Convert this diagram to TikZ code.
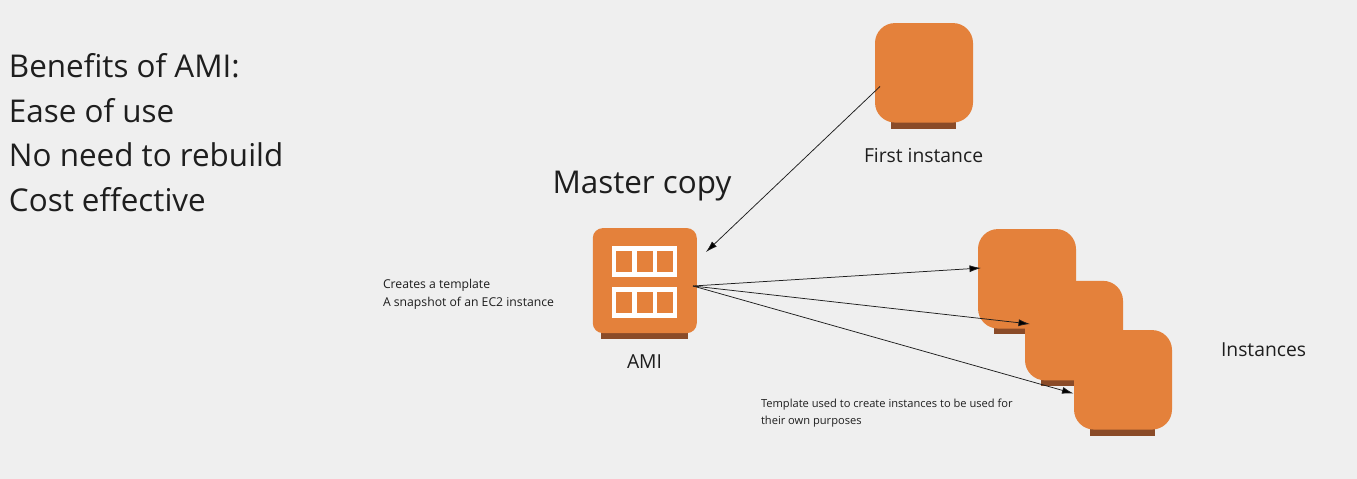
\documentclass[tikz,border=0pt]{standalone}
\usepackage{fontspec}
\setmainfont{Open Sans}
\usetikzlibrary{arrows.meta}
\definecolor{bgc}{HTML}{EFEFEF}
\definecolor{orangec}{HTML}{E4813B}
\definecolor{brownc}{HTML}{8A4B28}
\definecolor{inkc}{HTML}{1E1E1E}
\tikzset{
  x=1pt,y=-1pt,
  body/.style={fill=orangec,draw=none,rounded corners=20pt,minimum width=98pt,minimum height=99.5pt,inner sep=0pt,outer sep=0pt},
  amibody/.style={fill=orangec,draw=none,rounded corners=10pt,minimum width=104pt,minimum height=105pt,inner sep=0pt,outer sep=0pt},
  basebar/.style={fill=brownc,draw=none,inner sep=0pt,outer sep=0pt,minimum width=65pt,minimum height=6.5pt},
  frame/.style={fill=white,draw=none,inner sep=0pt,outer sep=0pt,minimum width=65.6pt,minimum height=31pt},
  cell/.style={fill=orangec,draw=none,inner sep=0pt,outer sep=0pt,minimum width=16pt,minimum height=20.6pt},
  txt/.style={anchor=base west,inner sep=0pt,outer sep=0pt,text=inkc},
  big/.style={txt,font=\fontsize{31.4}{31.4}\selectfont},
  mid/.style={txt,font=\fontsize{19.3}{19.3}\selectfont},
  small/.style={txt,font=\fontsize{12.2}{12.2}\selectfont},
  smaller/.style={txt,font=\fontsize{11.12}{11.12}\selectfont},
  link/.style={draw=inkc,line width=0.75pt,-{Latex[length=11.5pt,width=7pt,fill=black]}},
}
\begin{document}
\begin{tikzpicture}
\useasboundingbox (0,0) rectangle (1357,479);
\fill[bgc] (0,0) rectangle (1357,479);
% first instance
\node[basebar] (firstbase) at (923.5,125.5) {};
\node[body] (first) at (924,72.8) {};
% group of instances
\node[basebar] (b2) at (1026.5,331) {};
\node[body] (i2) at (1027,278.8) {};
\node[basebar] (b3) at (1073.5,383) {};
\node[body] (i3) at (1074,330.6) {};
\node[basebar] (b4) at (1122.5,432.5) {};
\node[body] (i4) at (1123,379.8) {};
% AMI
\node[basebar,minimum width=87.5pt] (amibase) at (644.4,336) {};
\node[amibody] (ami) at (644.8,280.6) {};
\node[frame] (f1) at (644.5,261.2) {};
\node[frame] (f2) at (644.5,302.8) {};
\foreach \n/\x in {a/624.3,b/644.7,c/664.9}{
  \node[cell] (u\n) at (\x,261.3) {};
  \node[cell] (l\n) at (\x,302.7) {};
}
% connector ends
\coordinate (s0) at (880,86.5);
\coordinate (e0) at (706,252);
\coordinate (s1) at (693,286);
\coordinate (e1) at (981,268);
\coordinate (e2) at (1030,324);
\coordinate (e3) at (1073.5,393.5);
\draw[link] (s0) -- (e0);
\draw[link] (s1) -- (e1);
\draw[link] (s1) -- (e2);
\draw[link] (s1) -- (e3);
% text
\node[big] (t1) at (9,77) {Benefits of AMI:};
\node[big] (t2) at (9,122) {Ease of use};
\node[big] (t3) at (9,166) {No need to rebuild};
\node[big] (t4) at (9,211) {Cost effective};
\node[big] (mc) at (552.5,193) {Master copy};
\node[mid] (fi) at (864,162) {First instance};
\node[mid] (am) at (627,368) {AMI};
\node[mid] (ins) at (1221,356) {Instances};
\node[small] (c1) at (383,288) {Creates a template};
\node[small] (c2) at (383,306) {A snapshot of an EC2 instance};
\node[smaller] (c3) at (761,407) {Template used to create instances to be used for};
\node[smaller] (c4) at (761,424) {their own purposes};
\end{tikzpicture}
\end{document}
